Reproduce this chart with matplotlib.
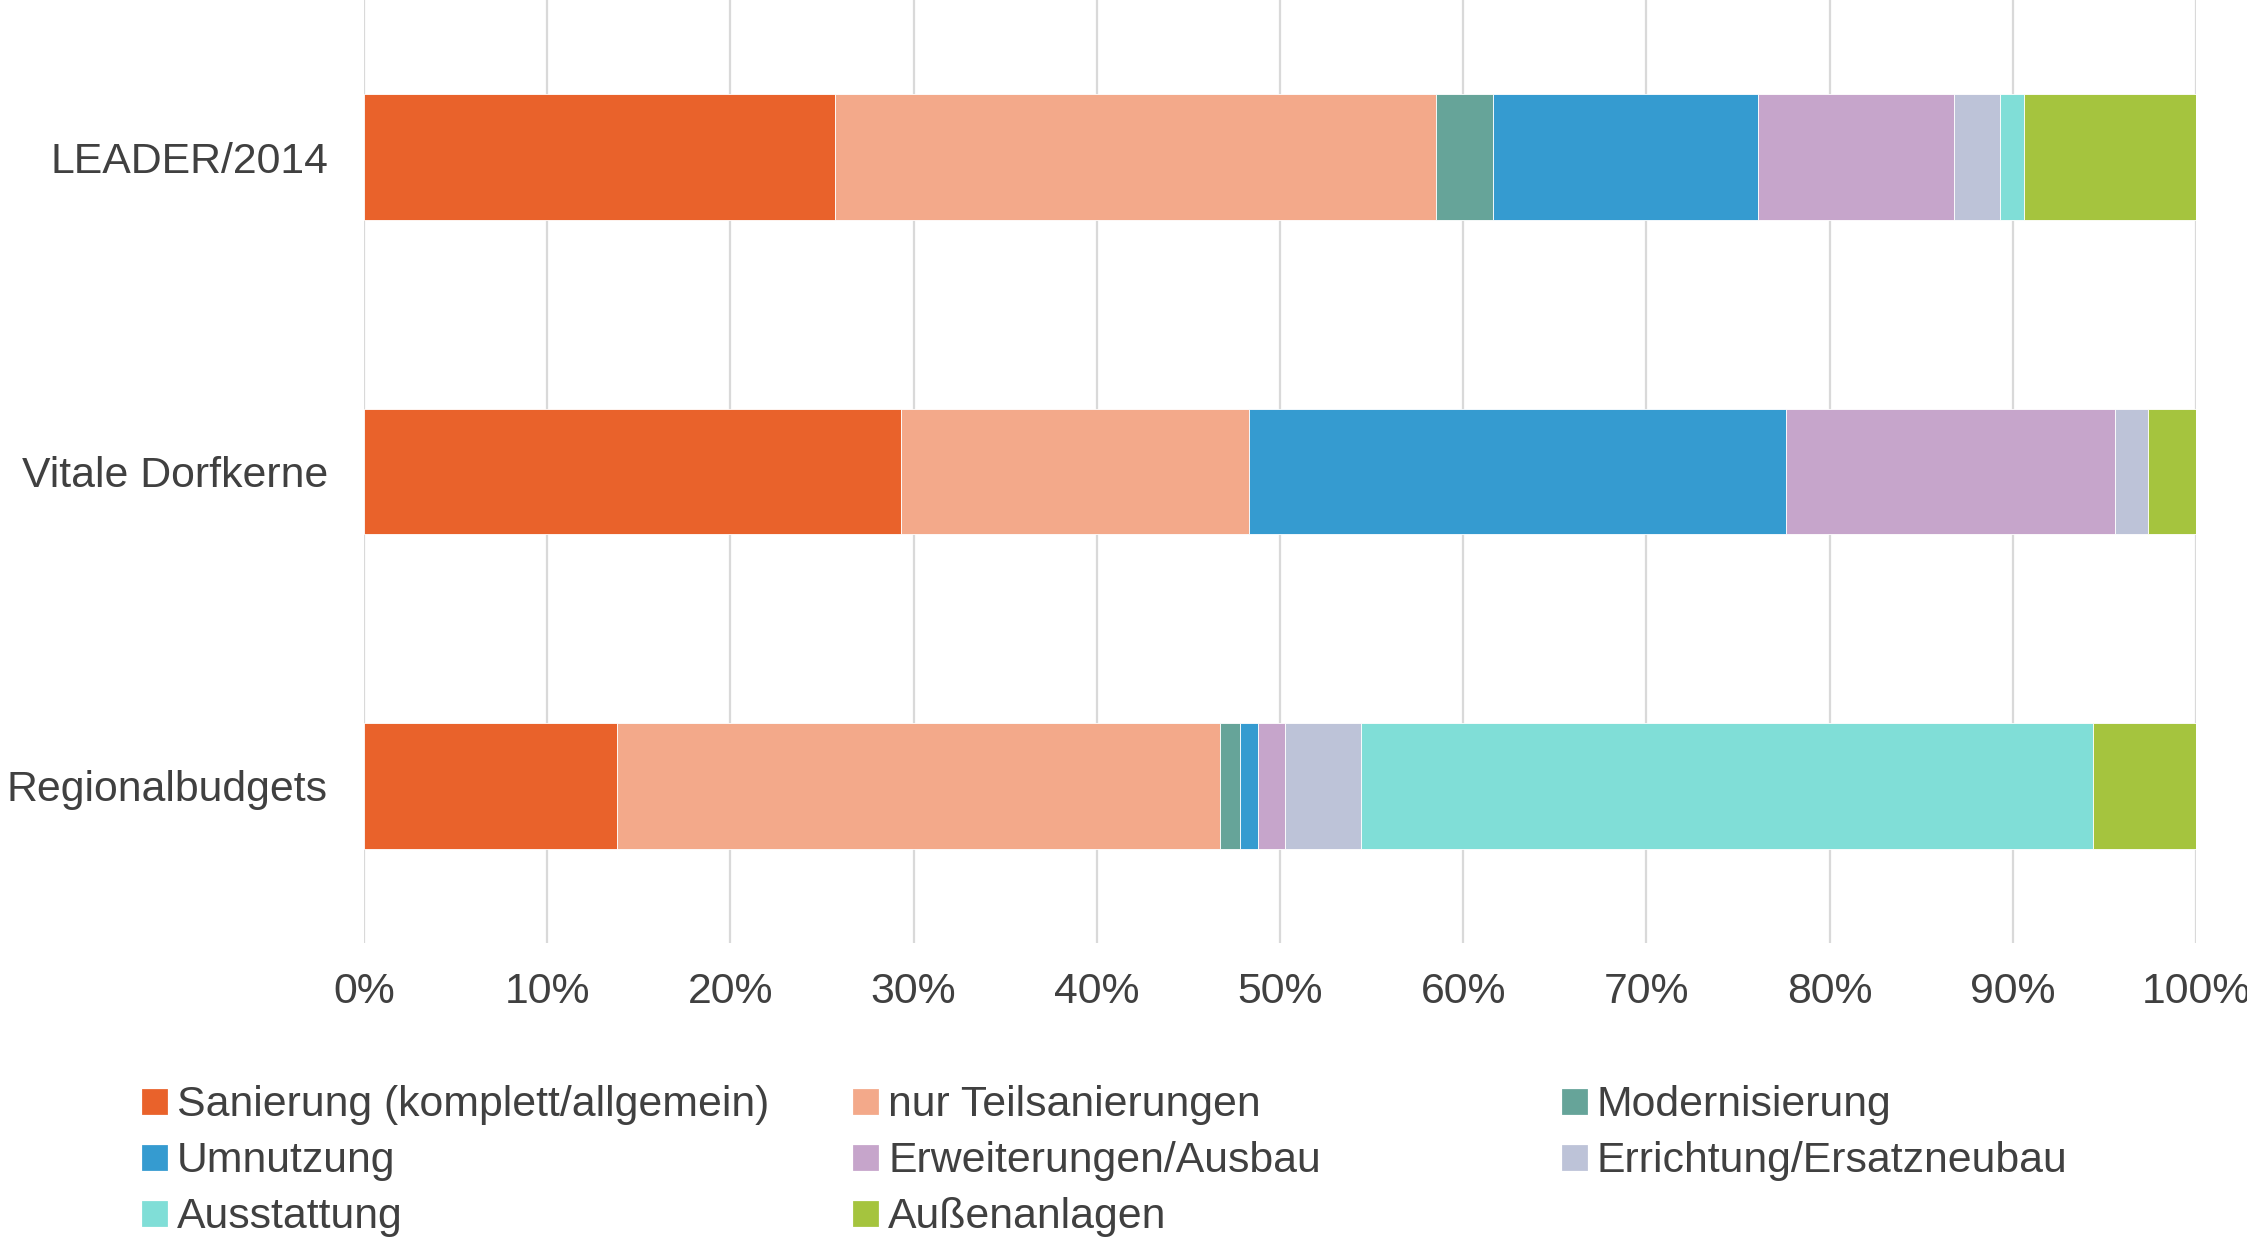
import numpy as np
from matplotlib import pyplot as plt
from matplotlib.patches import Rectangle

plt.rcParams['font.family'] = ['Liberation Sans', 'DejaVu Sans']

programmes = ["LEADER/2014", "Vitale Dorfkerne", "Regionalbudgets"]
categories = ["Sanierung (komplett/allgemein)", "nur Teilsanierungen", "Modernisierung",
              "Umnutzung", "Erweiterungen/Ausbau", "Errichtung/Ersatzneubau",
              "Ausstattung", "Außenanlagen"]
colors = ["#E9622B", "#F3A98A", "#66A499", "#359BD0", "#C6A5CB", "#BDC3D8",
          "#80DED7", "#A5C43E"]

# shares in percent, one list per programme
leader = [25.7, 32.8, 3.1, 14.5, 10.7, 2.5, 1.3, 9.4]
vitale = [29.3, 19.0, 0.0, 29.3, 18.0, 1.8, 0.0, 2.6]
regional = [13.8, 32.9, 1.1, 1.0, 1.5, 4.1, 40.0, 5.6]

ticks = [0, 10, 20, 30, 40, 50, 60, 70, 80, 90, 100]
tick_labels = [f"{t}%" for t in ticks]

text_col = "#404040"
fs = 15.4
data = np.array([leader, vitale, regional])

fig = plt.figure(figsize=(11.235, 6.19), dpi=200)
ax = fig.add_axes([364 / 2247, 1 - 943 / 1238, (2196 - 364) / 2247, 943 / 1238])

ypos = np.arange(len(programmes))
left = np.zeros(len(programmes))
for i, cat in enumerate(categories):
    ax.barh(ypos, data[:, i], left=left, height=0.4, color=colors[i],
            edgecolor="white", linewidth=0.3, label=cat, zorder=3)
    left += data[:, i]

ax.set_xlim(0, 100)
ax.set_ylim(2.5, -0.5)
ax.set_yticks(ypos)
ax.set_yticklabels(programmes, fontsize=fs, color=text_col)
ax.set_xticks(ticks)
ax.set_xticklabels(tick_labels, fontsize=fs, color=text_col)
ax.tick_params(axis="x", length=0, pad=10.5)
ax.tick_params(axis="y", length=0, pad=13)
ax.grid(axis="x", color="#D9D9D9", linewidth=0.8, zorder=0)
ax.set_axisbelow(True)
for s in ax.spines.values():
    s.set_visible(False)

# legend laid out in three fixed-width columns, row by row
col_x = [143, 854, 1563]
row_y = [1101, 1157, 1213]
sq = 23
for k, cat in enumerate(categories):
    r, c = divmod(k, 3)
    x0 = col_x[c] / 2247
    yc = 1 - row_y[r] / 1238
    fig.add_artist(Rectangle((x0, yc - sq / 2 / 1238), sq / 2247, sq / 1238,
                             transform=fig.transFigure, color=colors[k]))
    fig.text((col_x[c] + sq + 11) / 2247, yc - 4 / 1238, cat, fontsize=fs,
             color=text_col, va="center", ha="left")

fig.savefig("out.png", dpi=200)
